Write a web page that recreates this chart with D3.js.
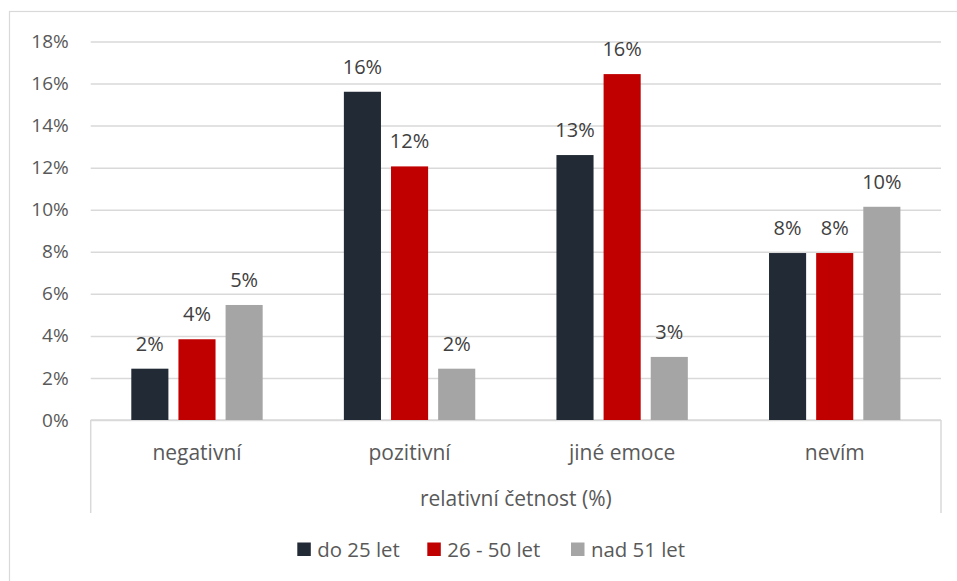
<!DOCTYPE html>
<html><head><meta charset="utf-8">
<script src="https://cdn.jsdelivr.net/npm/d3@7"></script>
<style>body{margin:0;background:#fff}svg{display:block;font-family:"Open Sans",sans-serif}</style>
</head><body><svg id="c" width="957" height="581"></svg>
<script>
const categories = ["negativní", "pozitivní", "jiné emoce", "nevím"];
const seriesNames = ["do 25 let", "26 - 50 let", "nad 51 let"];
const seriesColors = ["#222a35", "#c00000", "#a5a5a5"];
const valuesDo25 = [0.0244, 0.1561, 0.126, 0.0794];
const values26to50 = [0.0384, 0.1206, 0.1645, 0.0794];
const valuesNad51 = [0.0547, 0.0244, 0.030, 0.1014];
const yTicks = [0, 0.02, 0.04, 0.06, 0.08, 0.10, 0.12, 0.14, 0.16, 0.18];
const axisTitle = "relativní četnost (%)";

const series = [valuesDo25, values26to50, valuesNad51];
const svg = d3.select("#c");
const L = 90.7, R = 941, T = 41.5, B = 420;
const grid = "#d9d9d9", txt = "#595959";

svg.append("rect").attr("x", 9.5).attr("y", 11.5).attr("width", 1000).attr("height", 1000)
  .attr("fill", "none").attr("stroke", grid).attr("stroke-width", 1.2);

const x = d3.scaleBand().domain(categories).range([L, R]);
const xi = d3.scaleBand().domain(d3.range(3)).range([40.6, x.bandwidth() - 40.6]).paddingInner(0.213);
const y = d3.scaleLinear().domain([0, 0.18]).range([B, T]);
const fmt = d3.format(".0%");

const ya = svg.append("g").attr("transform", `translate(${L},0)`)
  .call(d3.axisLeft(y).tickValues(yTicks).tickFormat(fmt).tickSize(-(R - L)).tickPadding(22));
ya.select(".domain").remove();
ya.selectAll(".tick line").attr("stroke", grid).attr("stroke-width", 1.5);
ya.selectAll(".tick text").attr("fill", txt).attr("font-size", 19).attr("font-family", "Open Sans");

// category axis box
svg.append("line").attr("x1", L).attr("x2", R).attr("y1", B).attr("y2", B).attr("stroke", grid).attr("stroke-width", 1.5);
[L, R].forEach(v => svg.append("line").attr("x1", v).attr("x2", v).attr("y1", B).attr("y2", 513).attr("stroke", grid).attr("stroke-width", 1.5));

const g = svg.append("g");
categories.forEach((c, ci) => {
  series.forEach((s, si) => {
    const bx = x(c) + xi(si), v = s[ci];
    g.append("rect").attr("x", bx).attr("y", y(v)).attr("width", xi.bandwidth())
      .attr("height", B - y(v)).attr("fill", seriesColors[si]);
    g.append("text").attr("x", bx + xi.bandwidth() / 2).attr("y", y(v) - 18)
      .attr("text-anchor", "middle").attr("fill", "#404040").attr("font-size", 20).text(fmt(v));
  });
  svg.append("text").attr("x", x(c) + x.bandwidth() / 2).attr("y", 460).attr("text-anchor", "middle")
    .attr("fill", txt).attr("font-size", 21).text(c);
});

svg.append("text").attr("x", (L + R) / 2).attr("y", 506).attr("text-anchor", "middle")
  .attr("fill", txt).attr("font-size", 21).text(axisTitle);

// legend
const legX = [297.3, 427.3, 571];
seriesNames.forEach((n, i) => {
  svg.append("rect").attr("x", legX[i]).attr("y", 542.5).attr("width", 13.5).attr("height", 13.5).attr("fill", seriesColors[i]);
  svg.append("text").attr("x", legX[i] + 20).attr("y", 556.5).attr("fill", txt).attr("font-size", 20.4).text(n);
});
</script></body></html>
